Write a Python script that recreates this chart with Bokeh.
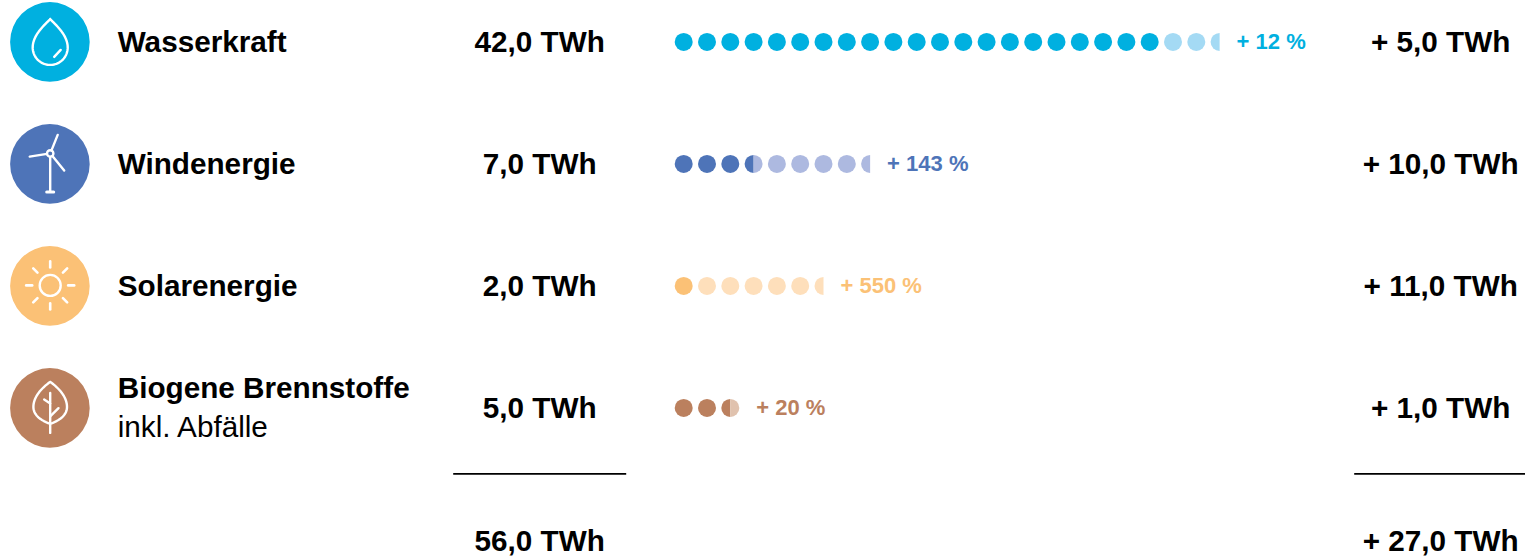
import math
import numpy as np
from bokeh.plotting import figure
from bokeh.models import Range1d
from bokeh.core.properties import value
from bokeh.embed import file_html
from bokeh.resources import INLINE

# ---- data ----
sources = ["Wasserkraft", "Windenergie", "Solarenergie", "Biogene Brennstoffe"]
subtitle = "inkl. Abfälle"
base_twh = [42.0, 7.0, 2.0, 5.0]
added_twh = [5.0, 10.0, 11.0, 1.0]
growth_labels = ["+ 12 %", "+ 143 %", "+ 550 %", "+ 20 %"]
total_label = "56,0 TWh"
added_total_label = "+ 27,0 TWh"
TWH_PER_DOT = 2.0

# ---- styles / layout ----
dark = ["#00B0E0", "#4E74B8", "#FBC176", "#BB805E"]
light = ["#A4DAF4", "#ADB9E0", "#FEDFBB", "#E0C2AE"]
row_y = [42, 164, 286, 408]
FONT = value("Liberation Sans")
X0, DX, R = 683.5, 23.3, 9.0
ICON_X, ICON_R = 49.7, 39.8

p = figure(width=1525, height=556, output_backend="svg", toolbar_location=None,
           x_range=Range1d(0.3, 1525.3), y_range=Range1d(556.6, 0.6),
           x_axis_location=None, y_axis_location=None, min_border=0,
           outline_line_color=None, margin=0)
p.grid.visible = False


def de(v):
    return f"{v:.1f}".replace(".", ",")


def txt(x, y, s, size=29.7, color="#000000", align="center", style="bold"):
    p.text([x], [y], text=[s], text_font=FONT, text_font_size=f"{size}px",
           text_font_style=style, text_color=color, text_align=align,
           text_baseline="middle")


def cubic(a, b, c, d, n=24):
    t = np.linspace(0, 1, n)[:, None]
    a, b, c, d = map(np.array, (a, b, c, d))
    return (1-t)**3*a + 3*(1-t)**2*t*b + 3*(1-t)*t**2*c + t**3*d


def outline(cx, top, side, bottom, ctl):
    """Closed symmetric outline from half-width side point and control offsets."""
    w, ym = side
    (a, b), (c, d), (e, f) , (g, h) = ctl
    r1 = cubic((0, top), (a, b), (c, d), (w, ym))
    r2 = cubic((w, ym), (e, f), (g, h), (0, bottom))
    right = np.vstack([r1, r2])
    left = right[::-1] * [-1, 1]
    pts = np.vstack([right, left])
    return cx + pts[:, 0], pts[:, 1]


def wl(xs, ys, w=2.4):
    p.line(xs, ys, line_color="white", line_width=w, line_cap="round", line_join="round")


# ---- icons ----
for y, c in zip(row_y, dark):
    p.circle([ICON_X], [y], radius=ICON_R, fill_color=c, line_color=None)

# drop
y = row_y[0]
xs, ys = outline(50, y-23, (17.5, y+5.5), y+23,
                 [(3, y-19), (17.5, y-8), (17.5, y+15), (10, y+23)])
wl(xs, ys)
wl([54, 60.5], [y+15, y+8])

# wind turbine
y = row_y[1]
hx, hy = 50, y-10.5
p.circle([hx], [hy], radius=3.2, fill_color=None, line_color="white", line_width=2.4)
wl([hx+1.3, 57.5], [hy-3, y-29])
wl([hx-3.2, 29.5], [hy+0.5, y-7.3])
wl([hx+2.2, 64], [hy+2.5, y+6.7])
wl([50, 50], [hy+3.5, y+28])
wl([46.5, 53.5], [y+28, y+28], 3)

# sun
y = row_y[2]
p.circle([50], [y-0.5], radius=10.5, fill_color=None, line_color="white", line_width=2.4)
for k in range(8):
    a = k*math.pi/4
    wl([50+18*math.cos(a), 50+24*math.cos(a)], [y-0.5+18*math.sin(a), y-0.5+24*math.sin(a)], 2.6)

# leaf
y = row_y[3]
xs, ys = outline(50, y-26, (16.8, y-1), y+16,
                 [(7, y-21), (16.8, y-12), (16.8, y+8), (8, y+13)])
wl(xs, ys)
wl([50, 50], [y-15, y+25])
wl([44, 50], [y-8.5, y-4.5])
wl([58.3, 50], [y+0.3, y+8.5])

# ---- labels and values ----
for name, y in zip(sources[:3], row_y[:3]):
    txt(117.5, y, name, align="left")
txt(117.5, 388, sources[3], align="left")
txt(117.5, 427, subtitle, align="left", style="normal")

for v, a, y in zip(base_twh, added_twh, row_y):
    txt(539.5, y, f"{de(v)} TWh")
    txt(1440.5, y, f"+ {de(a)} TWh")
txt(539.5, 540.5, total_label)
txt(1440.5, 540.5, added_total_label)

# ---- dots ----
for v, a, y, dc, lc, lab in zip(base_twh, added_twh, row_y, dark, light, growth_labels):
    total = v + a
    units_total = int(round(total / TWH_PER_DOT * 2))
    units_base = int(round(v / TWH_PER_DOT * 2))
    end_x = X0
    for i in range(math.ceil(units_total / 2)):
        cx = X0 + i*DX
        left = dc if units_base >= 2*i+1 else lc
        right = None if units_total < 2*i+2 else (dc if units_base >= 2*i+2 else lc)
        if right == left:
            p.circle([cx], [y], radius=R, fill_color=left, line_color=None)
            end_x = cx + R
        else:
            p.wedge([cx], [y], radius=R, start_angle=math.pi/2, end_angle=3*math.pi/2,
                    direction="anticlock", fill_color=left, line_color=None)
            end_x = cx
            if right:
                p.wedge([cx], [y], radius=R, start_angle=-math.pi/2, end_angle=math.pi/2,
                        direction="anticlock", fill_color=right, line_color=None)
                end_x = cx + R
    txt(end_x + 17, y, lab, size=22, color=dc, align="left")

# ---- sum rules ----
p.line([453, 626], [474, 474], line_color="#000000", line_width=1.6)
p.line([1354, 1526], [474, 474], line_color="#000000", line_width=1.6)

open("out.html", "w").write(file_html(p, INLINE))
